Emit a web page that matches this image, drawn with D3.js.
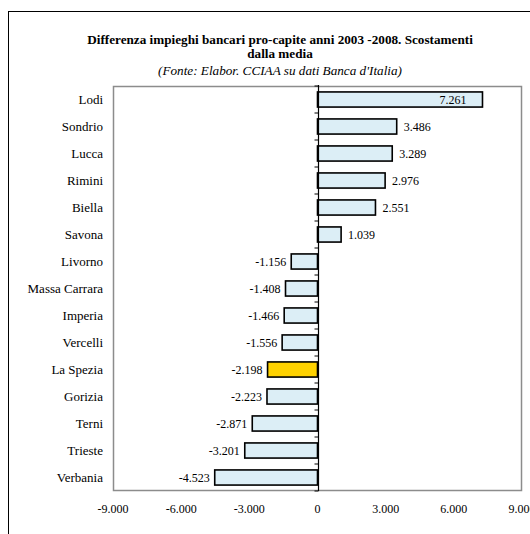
<!DOCTYPE html>
<html>
<head>
<meta charset="utf-8">
<script src="https://cdn.jsdelivr.net/npm/d3@7"></script>
<style>
  html, body { margin: 0; padding: 0; background: #fff; }
  svg { display: block; }
</style>
</head>
<body>
<svg id="chart" width="530" height="534"></svg>
<script>
// Provinces and their deviation from the mean (loans per capita, 2003-2008)
const provinces = ["Lodi", "Sondrio", "Lucca", "Rimini", "Biella", "Savona", "Livorno",
  "Massa Carrara", "Imperia", "Vercelli", "La Spezia", "Gorizia", "Terni", "Trieste", "Verbania"];
const deviations = [7261, 3486, 3289, 2976, 2551, 1039, -1156,
  -1408, -1466, -1556, -2198, -2223, -2871, -3201, -4523];
const highlighted = ["La Spezia"];
const xTicks = [-9000, -6000, -3000, 0, 3000, 6000, 9000];
const titleLines = ["Differenza impieghi bancari pro-capite anni 2003 -2008. Scostamenti", "dalla media"];
const subtitle = "(Fonte: Elabor. CCIAA su dati Banca d'Italia)";

const data = provinces.map((p, i) => ({ name: p, value: deviations[i] }));
const FONT = "Liberation Serif";

const svg = d3.select("#chart");
const plot = { left: 113, right: 522, top: 86, bottom: 491 };

// Italian number format: "." as thousands separator
const it = d3.formatLocale({ decimal: ",", thousands: ".", grouping: [3], currency: ["€", ""], minus: "-" });
const fmtTick = it.format(",.0f");
const fmtLabel = v => (v / 1000).toFixed(3);

// outer frame
svg.append("rect")
  .attr("x", 8.5).attr("y", 11.5)
  .attr("width", 600).attr("height", 600)
  .attr("fill", "none").attr("stroke", "#000").attr("stroke-width", 1);

// titles
const title = svg.append("text")
  .attr("text-anchor", "middle")
  .attr("font-family", FONT)
  .attr("font-weight", "bold").attr("font-size", 13.2);
titleLines.forEach((t, i) => {
  title.append("tspan").attr("x", 280).attr("y", 44 + i * 14).text(t);
});
svg.append("text")
  .attr("x", 280).attr("y", 74.5)
  .attr("text-anchor", "middle")
  .attr("font-family", FONT)
  .attr("font-style", "italic").attr("font-size", 13.2)
  .text(subtitle);

const x = d3.scaleLinear().domain([-9000, 9000]).range([plot.left, plot.right]);
const y = d3.scaleBand().domain(provinces).range([plot.top, plot.bottom]).paddingInner(0.44).paddingOuter(0.22);
const band = (plot.bottom - plot.top) / provinces.length;

// plot area border
svg.append("rect")
  .attr("x", plot.left + 0.5).attr("y", plot.top + 0.5)
  .attr("width", plot.right - plot.left - 1).attr("height", plot.bottom - plot.top - 1)
  .attr("fill", "none").attr("stroke", "#8c8c8c").attr("stroke-width", 1.5);

// bars
svg.append("g").selectAll("rect").data(data).join("rect")
  .attr("x", d => x(Math.min(0, d.value)))
  .attr("y", d => y(d.name))
  .attr("width", d => Math.abs(x(d.value) - x(0)))
  .attr("height", y.bandwidth())
  .attr("fill", d => highlighted.includes(d.name) ? "#ffd200" : "#dceef6")
  .attr("stroke", "#000").attr("stroke-width", 1.6);

// zero axis with ticks at category boundaries
const x0 = Math.round(x(0)) + 0.5;
const zeroAxis = svg.append("g");
zeroAxis.append("line")
  .attr("x1", x0).attr("x2", x0)
  .attr("y1", plot.top - 1).attr("y2", plot.bottom)
  .attr("stroke", "#000").attr("stroke-width", 1.2);
d3.range(provinces.length + 1).forEach(i => {
  const yy = plot.top + i * band;
  zeroAxis.append("line")
    .attr("x1", x0 - 4).attr("x2", x0)
    .attr("y1", yy).attr("y2", yy)
    .attr("stroke", "#000").attr("stroke-width", 1);
});

// category labels
svg.append("g").selectAll("text").data(provinces).join("text")
  .attr("x", 103)
  .attr("y", d => y(d) + y.bandwidth() / 2)
  .attr("dy", "0.35em")
  .attr("text-anchor", "end")
  .attr("font-family", FONT)
  .attr("font-size", 13)
  .text(d => d);

// value labels: the longest bar carries its label inside
svg.append("g").selectAll("text").data(data).join("text")
  .attr("x", d => {
    if (d.value > 6000) return x(d.value) - 16;
    return d.value >= 0 ? x(d.value) + 7 : x(d.value) - 5;
  })
  .attr("y", d => y(d.name) + y.bandwidth() / 2)
  .attr("dy", "0.35em")
  .attr("text-anchor", d => (d.value > 6000 || d.value < 0) ? "end" : "start")
  .attr("font-family", FONT)
  .attr("font-size", 12)
  .text(d => fmtLabel(d.value));

// x tick labels (the last one runs past the right edge)
svg.append("g").selectAll("text").data(xTicks).join("text")
  .attr("x", d => x(d))
  .attr("y", 513)
  .attr("text-anchor", "middle")
  .attr("font-family", FONT)
  .attr("font-size", 12)
  .text(d => fmtTick(d));
</script>
</body>
</html>
